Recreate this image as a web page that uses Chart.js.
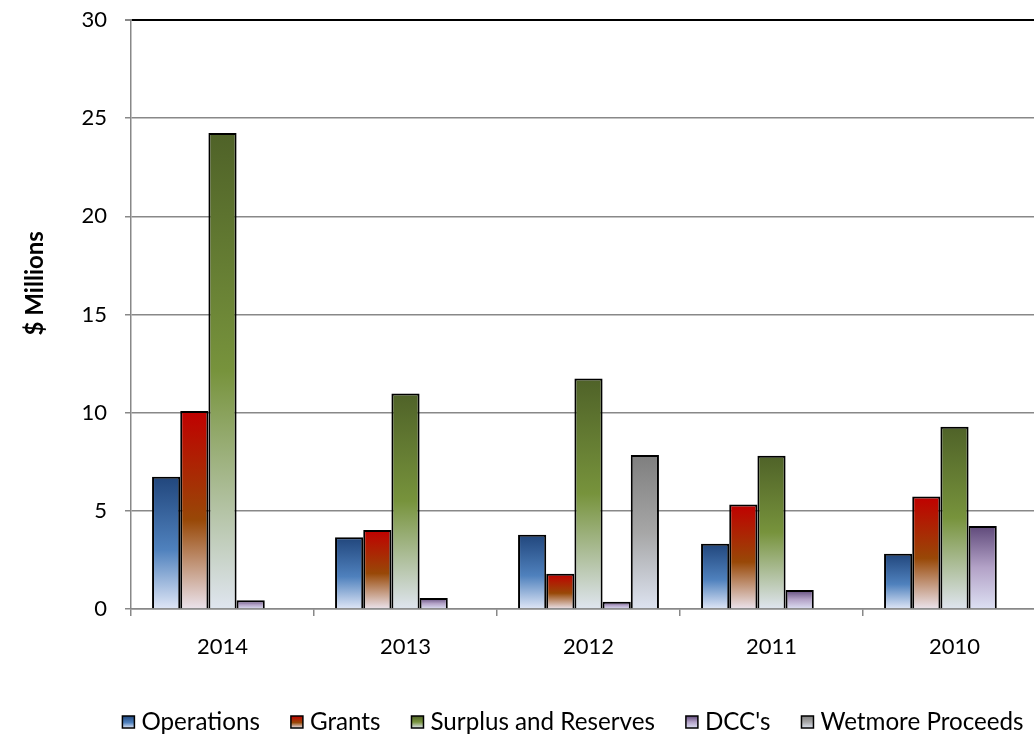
<!DOCTYPE html>
<html>
<head>
<meta charset="utf-8">
<title>Capital Funding Sources</title>
<script src="https://cdn.jsdelivr.net/npm/chart.js@4.4.1/dist/chart.umd.min.js"></script>
<style>
  html, body { margin: 0; padding: 0; background: #fff; overflow: hidden; }
  #wrap { width: 1060px; height: 753px; }
</style>
</head>
<body>
<div id="wrap"><canvas id="fundingChart" width="1060" height="753"></canvas></div>
<script>
// funding by source, $ millions
const years = ['2014', '2013', '2012', '2011', '2010'];
const operations = [6.74, 3.66, 3.78, 3.32, 2.81];
const grants = [10.08, 4.03, 1.79, 5.32, 5.73];
const surplusReserves = [24.25, 10.98, 11.74, 7.81, 9.28];
const dccs = [0.44, 0.56, 0.37, 0.97, 4.23];
const wetmore = [0, 0, 7.84, 0, 0];
const yTicks = [0, 5, 10, 15, 20, 25, 30];

const FONT = 'Lato, "Open Sans", sans-serif';
const GRID = '#888888';

// vertical fade for each bar, dark at the top to pale at the base
function fadeBetween(ctx, stops, top, bottom) {
  const g = ctx.createLinearGradient(0, top, 0, bottom);
  stops.forEach(s => g.addColorStop(s[0], s[1]));
  return g;
}

function barFill(stops) {
  return (ctx) => {
    const chart = ctx.chart;
    if (!chart.chartArea || ctx.type !== 'data') return stops[1][1];
    const y = chart.scales.y;
    const top = y.getPixelForValue(ctx.raw);
    const base = y.getPixelForValue(0);
    if (base - top < 1) return stops[0][1];
    return fadeBetween(chart.ctx, stops, top, base);
  };
}

const series = [
  { label: 'Operations', data: operations,
    stops: [[0, '#21467c'], [0.55, '#4f81bd'], [1, '#dfe6f6']] },
  { label: 'Grants', data: grants,
    stops: [[0, '#c00000'], [0.55, '#984807'], [1, '#ebe3ec']] },
  { label: 'Surplus and Reserves', data: surplusReserves,
    stops: [[0, '#4f6228'], [0.5, '#77933c'], [1, '#dfe5ef']] },
  { label: "DCC's", data: dccs,
    stops: [[0, '#5f497a'], [0.5, '#b3a2c7'], [1, '#dde0f3']] },
  { label: 'Wetmore Proceeds', data: wetmore,
    stops: [[0, '#7f7f7f'], [0.5, '#a6a6a6'], [1, '#dde3f0']] }
];

// rotated axis title, sits a little above the middle of the plot
const yTitle = {
  id: 'yTitle',
  afterDraw(chart) {
    const { ctx, chartArea } = chart;
    const cy = chartArea.top + chartArea.height * 0.447;
    ctx.save();
    ctx.translate(35, cy);
    ctx.rotate(-Math.PI / 2);
    ctx.font = 'bold 24px ' + FONT;
    ctx.fillStyle = '#000';
    ctx.textAlign = 'center';
    ctx.textBaseline = 'middle';
    ctx.fillText('$ Millions', 0, 0);
    ctx.restore();
  }
};

// one-line legend under the plot, gradient swatches like the bars
const fadeLegend = {
  id: 'fadeLegend',
  afterDraw(chart) {
    const { ctx } = chart;
    const box = 12, gap = 7, spacing = 31;
    const cx = 573, cy = 722;
    ctx.save();
    ctx.font = '24.2px ' + FONT;
    const widths = series.map(s => box + gap + ctx.measureText(s.label).width);
    const total = widths.reduce((a, b) => a + b, 0) + spacing * (series.length - 1);
    let x = cx - total / 2;
    series.forEach((s, i) => {
      const top = cy - box / 2;
      ctx.fillStyle = fadeBetween(ctx, s.stops, top, top + box);
      ctx.fillRect(x, top, box, box);
      ctx.strokeStyle = '#000';
      ctx.lineWidth = 1.5;
      ctx.strokeRect(x, top, box, box);
      ctx.fillStyle = '#000';
      ctx.textAlign = 'left';
      ctx.textBaseline = 'middle';
      ctx.fillText(s.label, x + box + gap, cy);
      x += widths[i] + spacing;
    });
    ctx.restore();
  }
};

Chart.defaults.color = '#000';
Chart.defaults.font.family = FONT;

new Chart(document.getElementById('fundingChart').getContext('2d'), {
  type: 'bar',
  data: {
    labels: years,
    datasets: series.map(s => ({
      label: s.label,
      data: s.data,
      backgroundColor: barFill(s.stops),
      borderColor: '#000',
      borderWidth: 2,
      barPercentage: 1,
      categoryPercentage: 0.77
    }))
  },
  options: {
    responsive: false,
    animation: false,
    layout: { padding: { left: 0, right: 14, top: 20, bottom: 87 } },
    plugins: {
      tooltip: { enabled: false },
      legend: { display: false }
    },
    scales: {
      x: {
        afterFit: (s) => { s.height = 57; },
        border: { color: GRID, width: 1.5 },
        grid: { drawOnChartArea: false, drawTicks: true, tickLength: 7, color: GRID, lineWidth: 1.5 },
        ticks: { padding: 18, font: { size: 22 } }
      },
      y: {
        min: 0, max: 30,
        afterFit: (s) => { s.width = 131; s.paddingTop = 0; s.paddingBottom = 0; },
        afterBuildTicks: (s) => { s.ticks = yTicks.map(v => ({ value: v })); },
        border: { color: GRID, width: 1.5 },
        grid: {
          color: (c) => c.tick && c.tick.value === 30 ? '#000' : GRID,
          lineWidth: (c) => c.tick && c.tick.value === 30 ? 2 : 1.5,
          tickColor: GRID,
          tickLength: 6
        },
        ticks: { padding: 18, font: { size: 22 } }
      }
    }
  },
  plugins: [yTitle, fadeLegend]
});
</script>
</body>
</html>
